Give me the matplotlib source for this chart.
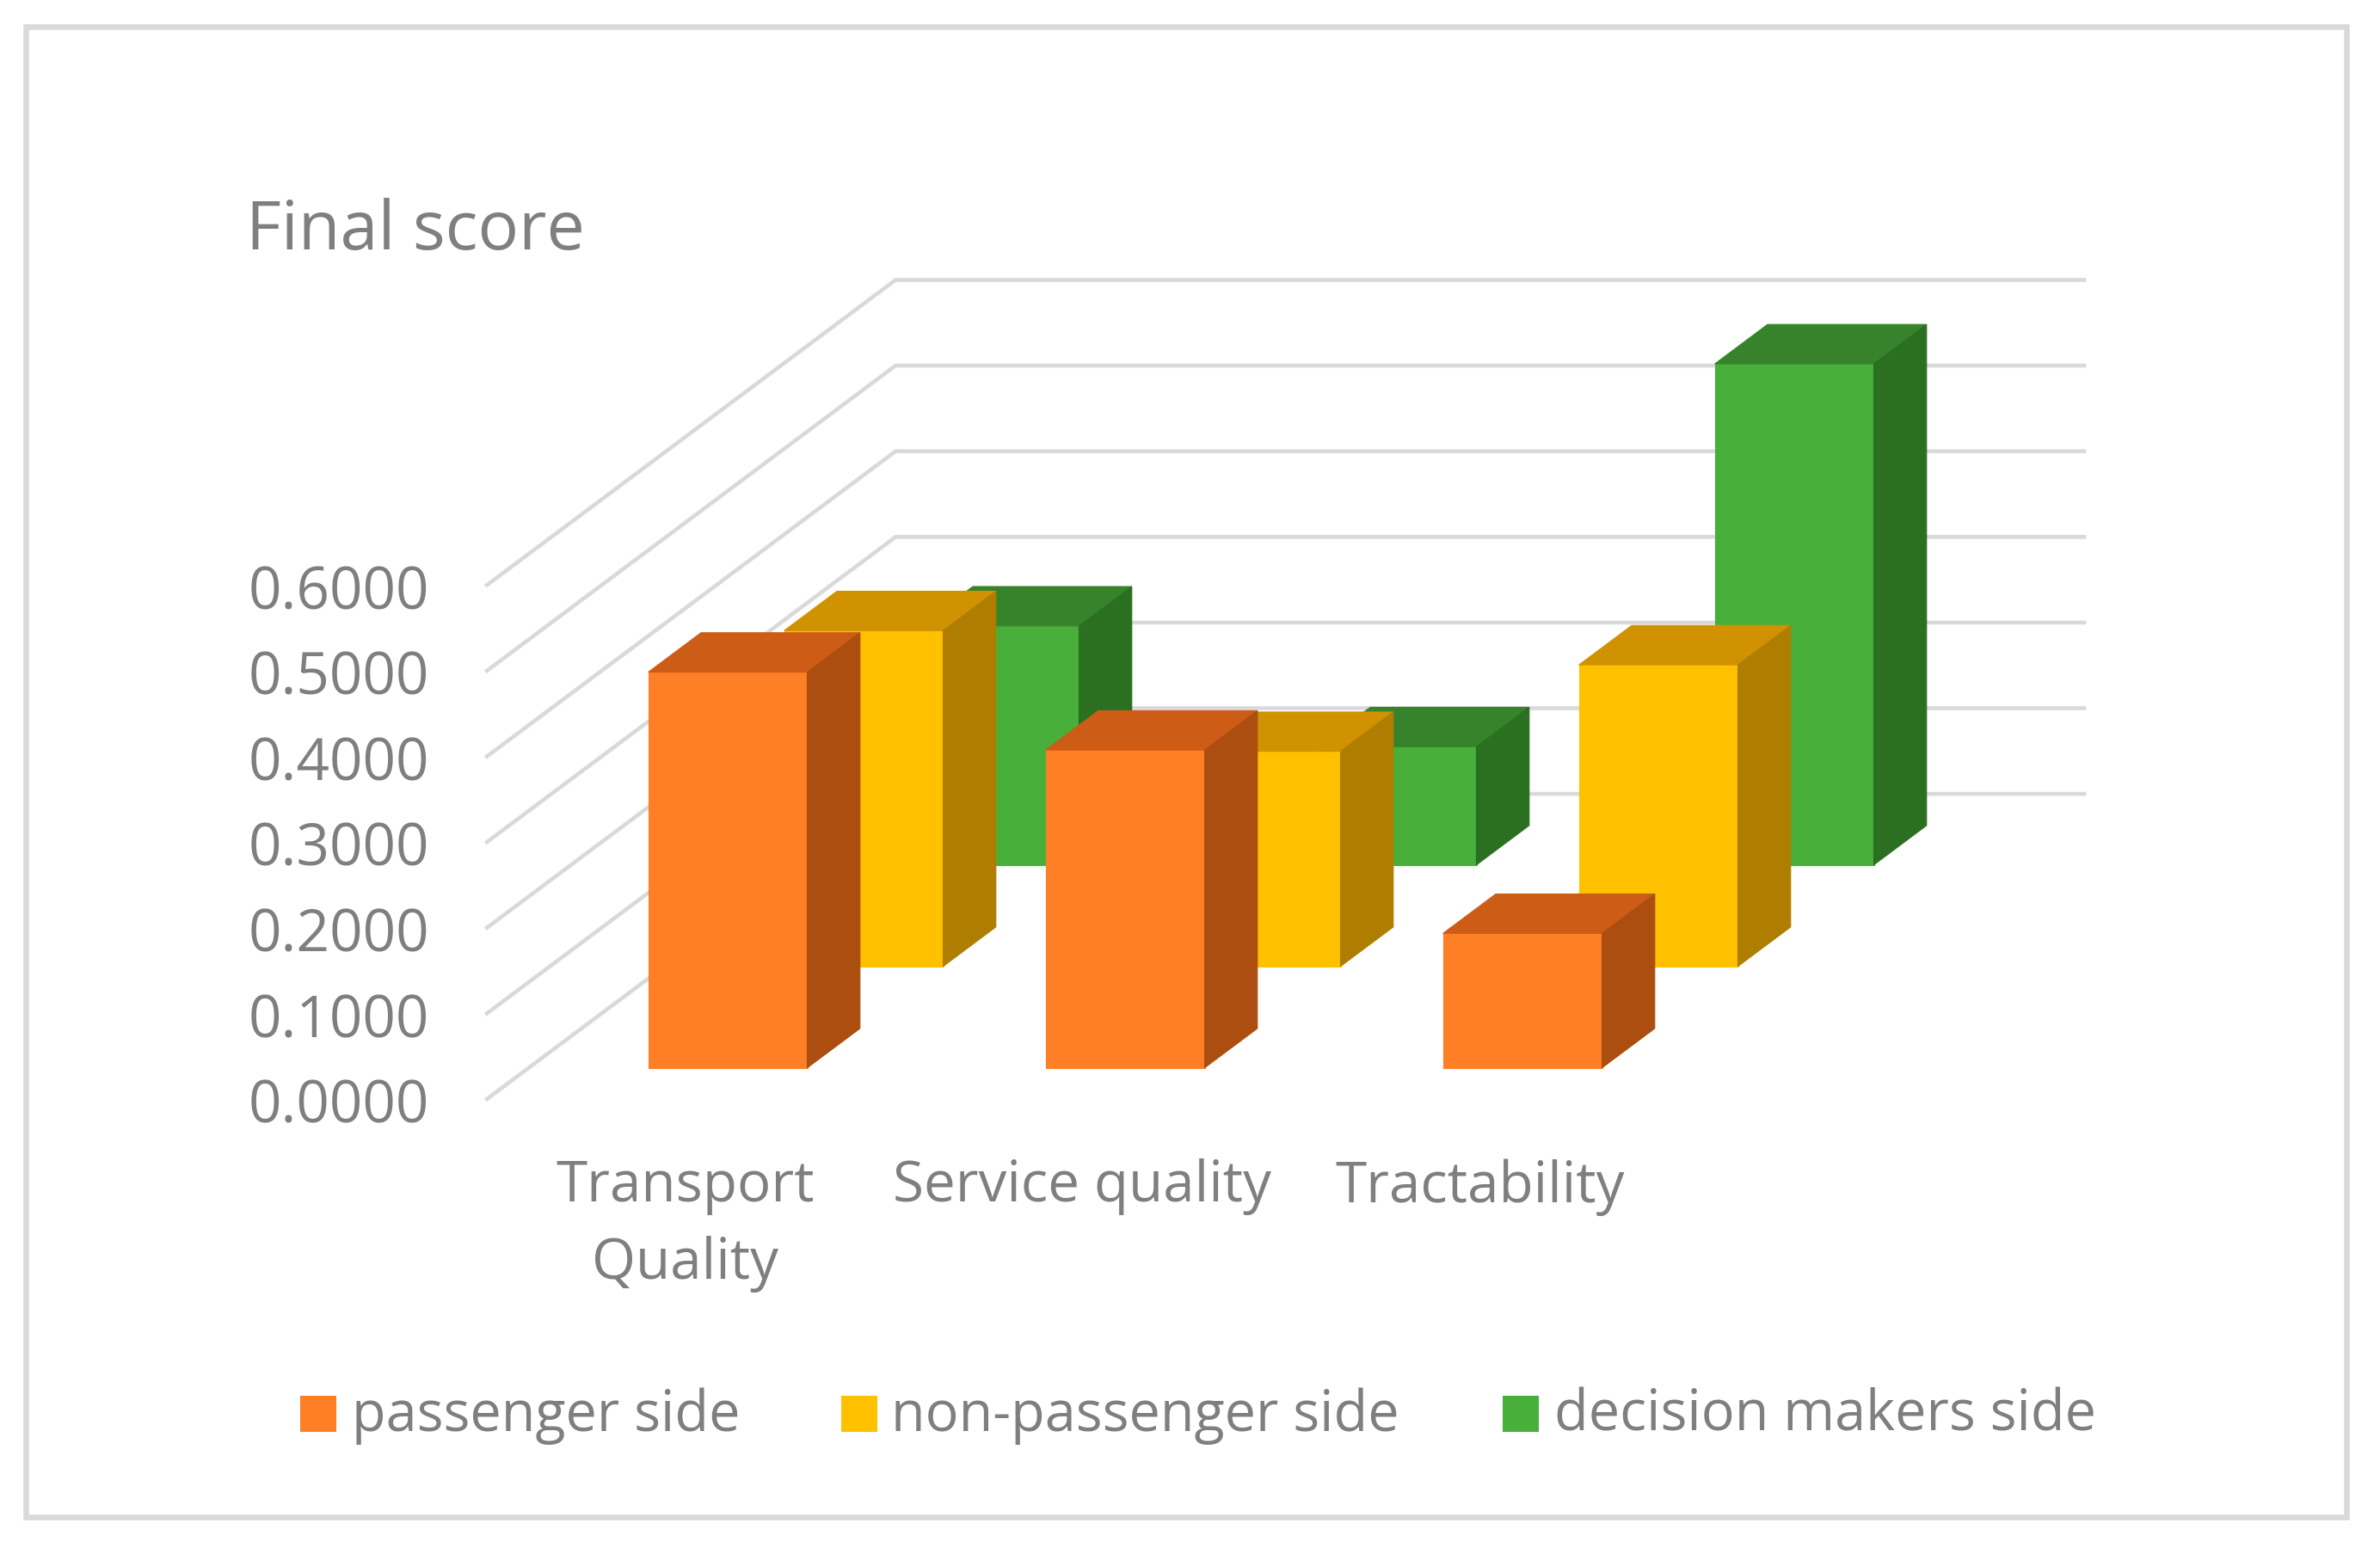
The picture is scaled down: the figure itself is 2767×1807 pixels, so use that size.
# plot.py - Final score, Excel style 3D clustered columns

import matplotlib
matplotlib.use('Agg')
import matplotlib.pyplot as plt
from matplotlib.patches import Polygon, Rectangle
from matplotlib.transforms import Affine2D

# === Data ===
categories = ['Transport\nQuality', 'Service quality', 'Tractability']
series_names = ['passenger side', 'non-passenger side', 'decision makers side']
passenger = [0.462, 0.371, 0.157]
non_passenger = [0.392, 0.251, 0.352]
decision_makers = [0.279, 0.138, 0.585]
tick_values = [0.0, 0.1, 0.2, 0.3, 0.4, 0.5, 0.6]

# === Style ===
W, H = 2767, 1807
TEXT = '#7F7F7F'
GRID = '#D9D9D9'
FACE_COLORS = [('#FF7F27', '#CC5C16', '#AB4E10'),
               ('#FFC000', '#D09200', '#AF7E00'),
               ('#47AF3A', '#37832B', '#2B7020')]
plt.rcParams['font.family'] = ['Open Sans', 'DejaVu Sans']

# oblique projection, in category / value units per unit of depth
X0, Y0 = 753.7, 1241.7
X_STEP, Y_SCALE = 462.0, 996.0
DX, DY = 158.0 / X_STEP, 118.0 / Y_SCALE
BAR_W, BAR_D = 0.40, 0.388
WALL_LEFT, WALL_RIGHT = -0.301, 2.69
Z_FRONT, Z_BACK = -0.307, 2.70


def project(x, v, z):
    return x + z * DX, v + z * DY


def draw_bar(ax, x, v, z, colors, order):
    front, top, side = colors
    a = project(x, 0, z)
    b = project(x + BAR_W, 0, z)
    c = project(x + BAR_W, v, z)
    d = project(x, v, z)
    e = project(x + BAR_W, 0, z + BAR_D)
    f = project(x + BAR_W, v, z + BAR_D)
    g = project(x, v, z + BAR_D)
    for pts, col in [([a, b, c, d], front), ([d, c, f, g], top), ([b, e, f, c], side)]:
        ax.add_patch(Polygon(pts, closed=True, facecolor=col, edgecolor=col,
                             linewidth=0.8, zorder=order))


fig = plt.figure(figsize=(W / 100, H / 100), dpi=100, facecolor='white')
ax = fig.add_axes([0, 0, 1, 1])
ax.set_xlim(-X0 / X_STEP, (W - X0) / X_STEP)
ax.set_ylim((Y0 - H) / Y_SCALE, Y0 / Y_SCALE)
ax.axis('off')

# pixel coordinates of the picture, y going down, for the page furniture
page = Affine2D().scale(1 / W, -1 / H).translate(0, 1) + fig.transFigure

ax.add_patch(Rectangle((30, 30.5), 2697.5, 1734, transform=page, fill=False,
                       edgecolor=GRID, linewidth=4.7, zorder=1))

# wall gridlines and value labels
for v in tick_values:
    pts = [project(WALL_LEFT, v, Z_FRONT), project(WALL_LEFT, v, Z_BACK),
           project(WALL_RIGHT, v, Z_BACK)]
    ax.plot([p[0] for p in pts], [p[1] for p in pts], color=GRID, linewidth=3.3,
            solid_joinstyle='miter', zorder=2)
    fx, fy = pts[0]
    ax.annotate(f'{v:.4f}', (fx, fy), xytext=(-48, -1.5), textcoords='offset points',
                ha='right', va='center_baseline', fontsize=48.6, color=TEXT)

# bars, from the back row to the front row
all_series = [passenger, non_passenger, decision_makers]
for z in (2, 1, 0):
    for i, v in enumerate(all_series[z]):
        draw_bar(ax, i, v, z, FACE_COLORS[z], 5 + (2 - z))

# category labels
for i, name in enumerate(categories):
    lx, ly = project(i + BAR_W / 2, 0, Z_FRONT)
    ax.annotate(name, (lx, ly), xytext=(-1, -50), textcoords='offset points',
                ha='center', va='top', fontsize=47.2, color=TEXT, linespacing=1.47)

# title
ax.text(286, 290, 'Final score', transform=page, fontsize=57, color=TEXT,
        ha='left', va='baseline')

# legend
swatch_x = [349, 978, 1747]
label_x = [409, 1036, 1807]
for name, sx, tx, colors in zip(series_names, swatch_x, label_x, FACE_COLORS):
    ax.add_patch(Rectangle((sx, 1623), 42, 42, transform=page, facecolor=colors[0],
                           edgecolor='none', zorder=3))
    ax.text(tx, 1664, name, transform=page, fontsize=46.6, color=TEXT,
            ha='left', va='baseline')

fig.savefig('out.png', dpi=100)
